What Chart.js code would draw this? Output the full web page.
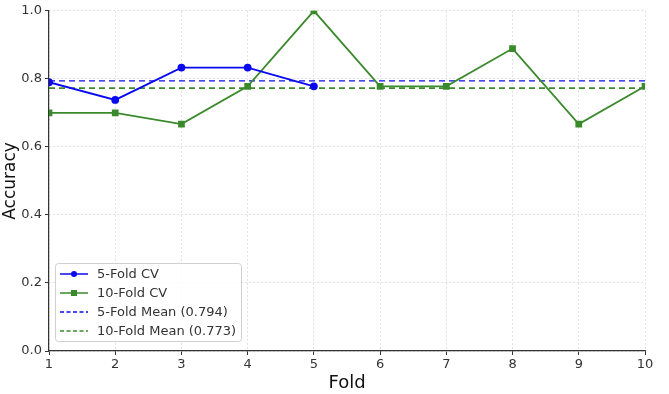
<!DOCTYPE html>
<html><head><meta charset="utf-8">
<script src="https://cdn.jsdelivr.net/npm/chart.js@4/dist/chart.umd.min.js"></script>
<style>html,body{margin:0;padding:0;background:#fff;}#wrap{width:669px;height:394px;}</style>
</head><body><div id="wrap"><canvas id="c" width="669" height="394"></canvas></div>
<script>
const folds5 = [1, 2, 3, 4, 5];
const acc5 = [0.790, 0.738, 0.833, 0.833, 0.778];
const folds10 = [1, 2, 3, 4, 5, 6, 7, 8, 9, 10];
const acc10 = [0.700, 0.700, 0.667, 0.778, 1.000, 0.778, 0.778, 0.889, 0.667, 0.778];
const mean5 = 0.794;
const mean10 = 0.773;
const seriesLabels = ['5-Fold CV', '10-Fold CV', '5-Fold Mean (0.794)', '10-Fold Mean (0.773)'];
const xTicks = [1, 2, 3, 4, 5, 6, 7, 8, 9, 10];
const yTicks = [0.0, 0.2, 0.4, 0.6, 0.8, 1.0];

const BLUE = '#0a0af0', GREEN = '#3a8a2c';
const FONT = "'DejaVu Sans', sans-serif";

const legendPlugin = {
  id: 'innerLegend',
  afterDraw(chart) {
    const ctx = chart.ctx;
    const x0 = 55, y0 = 263, w = 186, h = 78;
    ctx.save();
    ctx.fillStyle = 'rgba(255,255,255,0.85)';
    ctx.strokeStyle = '#d0d0d0';
    ctx.lineWidth = 1;
    ctx.beginPath();
    ctx.roundRect(x0 + 0.5, y0 + 0.5, w, h, 3);
    ctx.fill(); ctx.stroke();
    const items = [
      {c: BLUE, dash: [], m: 'circle'},
      {c: GREEN, dash: [], m: 'rect'},
      {c: BLUE, dash: [4, 2.5], m: null},
      {c: GREEN, dash: [4, 2.5], m: null}
    ];
    ctx.font = '13px ' + FONT;
    ctx.textBaseline = 'middle';
    items.forEach((it, i) => {
      const y = y0 + 11 + i * 19;
      ctx.strokeStyle = it.c; ctx.lineWidth = 1.5; ctx.setLineDash(it.dash);
      ctx.beginPath(); ctx.moveTo(60, y); ctx.lineTo(88, y); ctx.stroke();
      ctx.setLineDash([]);
      ctx.fillStyle = it.c;
      if (it.m === 'circle') { ctx.beginPath(); ctx.arc(74, y, 3, 0, Math.PI * 2); ctx.fill(); }
      if (it.m === 'rect') { ctx.fillRect(71, y - 3, 6, 6); }
      ctx.fillStyle = '#333';
      ctx.fillText(seriesLabels[i], 97, y + 1);
    });
    ctx.restore();
  }
};

new Chart(document.getElementById('c'), {
  type: 'line',
  data: {
    datasets: [
      {label: seriesLabels[0], data: folds5.map((f, i) => ({x: f, y: acc5[i]})), borderColor: BLUE, backgroundColor: BLUE,
       borderWidth: 1.8, pointStyle: 'circle', pointRadius: 3, pointHoverRadius: 3, order: 1},
      {label: seriesLabels[1], data: folds10.map((f, i) => ({x: f, y: acc10[i]})), borderColor: GREEN, backgroundColor: GREEN,
       borderWidth: 1.8, pointStyle: 'rect', pointRadius: 3.5, pointHoverRadius: 3.5, order: 2},
      {label: seriesLabels[2], data: [{x: xTicks[0], y: mean5}, {x: xTicks[xTicks.length - 1], y: mean5}], borderColor: BLUE,
       borderWidth: 1.3, borderDash: [6, 4], pointRadius: 0, order: 3},
      {label: seriesLabels[3], data: [{x: xTicks[0], y: mean10}, {x: xTicks[xTicks.length - 1], y: mean10}], borderColor: GREEN,
       borderWidth: 1.8, borderDash: [6, 4], pointRadius: 0, order: 4}
    ]
  },
  options: {
    responsive: false,
    animation: false,
    layout: {padding: {top: 10, right: 24, left: 0, bottom: 0}},
    plugins: {legend: {display: false}, tooltip: {enabled: false}},
    scales: {
      x: {
        type: 'linear', min: 1, max: 10,
        afterBuildTicks(s) { s.ticks = xTicks.map(v => ({value: v})); },
        afterFit(s) { s.height = 43; },
        ticks: {color: '#333', font: {family: FONT, size: 13}, padding: 2, maxRotation: 0},
        grid: {color: '#d8d8d8', lineWidth: 0.8, tickColor: '#333', tickLength: 4, tickBorderDash: [], tickWidth: 1},
        border: {color: '#333', width: 1.2, dash: [2, 2]},
        title: {display: true, text: 'Fold', color: '#111', font: {family: FONT, size: 18}, padding: {top: 0, bottom: 0}}
      },
      y: {
        type: 'linear', min: 0, max: 1,
        afterBuildTicks(s) { s.ticks = yTicks.map(v => ({value: v})); },
        afterFit(s) { s.width = 49; },
        ticks: {color: '#333', font: {family: FONT, size: 13}, padding: 3, callback: v => v.toFixed(1)},
        grid: {color: '#d8d8d8', lineWidth: 0.8, tickColor: '#333', tickLength: 4, tickBorderDash: [], tickWidth: 1},
        border: {color: '#333', width: 1.2, dash: [2, 2]},
        title: {display: true, text: 'Accuracy', color: '#111', font: {family: FONT, size: 17}, padding: {top: 0, bottom: 2}}
      }
    }
  },
  plugins: [legendPlugin]
});
</script></body></html>
